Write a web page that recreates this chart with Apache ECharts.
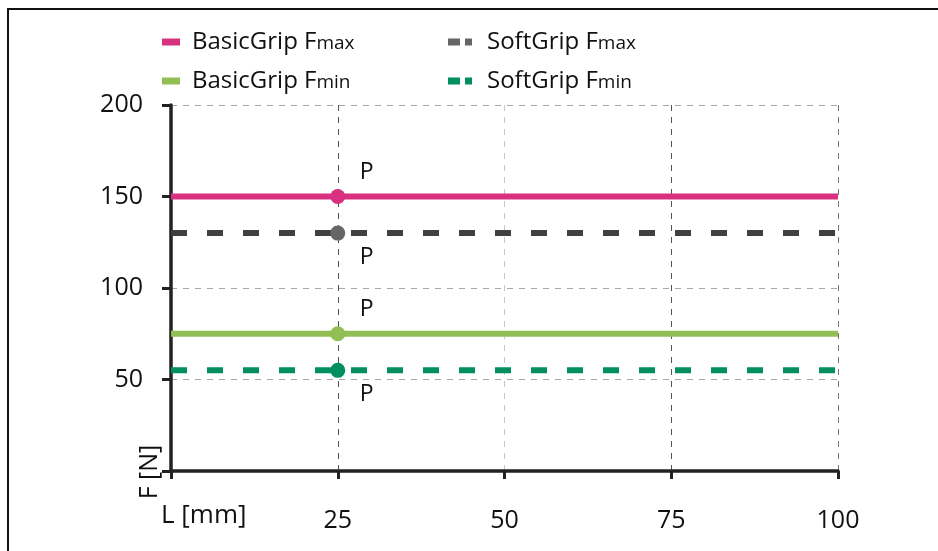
<!DOCTYPE html>
<html>
<head>
<meta charset="utf-8">
<script src="https://cdn.jsdelivr.net/npm/echarts@6/dist/echarts.min.js"></script>
<style>
  html,body{margin:0;padding:0;background:#fff;overflow:hidden;}
  #chart{position:absolute;left:0;top:0;width:938px;height:551px;}
</style>
</head>
<body>
<div id="chart"></div>
<script>
// ---- data ----
const xValues = [0, 25, 100];
const pointX = 25;
const basicGripFmax = [150, 150, 150];
const softGripFmax = [130, 130, 130];
const basicGripFmin = [75, 75, 75];
const softGripFmin = [55, 55, 55];
const xTicks = [0, 25, 50, 75, 100];
const yTicks = [0, 50, 100, 150, 200];
const seriesNames = ['BasicGrip Fmax', 'SoftGrip Fmax', 'BasicGrip Fmin', 'SoftGrip Fmin'];
const pointLabel = 'P';
const xAxisTitle = 'L [mm]';
const yAxisTitle = 'F [N]';

const FONT = '"Open Sans", "DejaVu Sans", sans-serif';

function buildData(vals, above) {
  return xValues.map((x, i) => {
    if (x === pointX) {
      return {
        value: [x, vals[i]],
        symbol: 'circle',
        symbolSize: 15,
        label: {
          show: true,
          formatter: pointLabel,
          position: 'inside',
          offset: [29, above ? -24 : 24],
          color: '#111',
          fontSize: 23,
          fontFamily: FONT
        }
      };
    }
    return { value: [x, vals[i]], symbol: 'none' };
  });
}

function mkSeries(name, vals, lineColor, markerColor, dashed, above) {
  return {
    name: name,
    type: 'line',
    data: buildData(vals, above),
    showSymbol: true,
    showAllSymbol: true,
    z: 3,
    itemStyle: { color: markerColor, borderWidth: 0 },
    lineStyle: { color: lineColor, width: 6, type: dashed ? [16, 20] : 'solid', cap: 'butt' },
    emphasis: { disabled: true },
    animation: false
  };
}

function legendFmt(name) {
  const parts = name.split(' F');
  return '{a|' + parts[0] + ' F}{s|' + parts[1] + '}';
}
const legendRich = {
  a: { fontSize: 24, fontFamily: FONT, color: '#111', lineHeight: 24, verticalAlign: 'bottom' },
  s: { fontSize: 19, fontFamily: FONT, color: '#111', lineHeight: 21, verticalAlign: 'bottom', padding: [0, 0, 1, 0] }
};

const chart = echarts.init(document.getElementById('chart'), null, { renderer: 'canvas' });
chart.setOption({
  animation: false,
  backgroundColor: '#fff',
  grid: { left: 171, right: 100, top: 105, bottom: 80, containLabel: false },
  legend: [
    {
      left: 162, top: 30, orient: 'vertical', itemGap: 15, padding: 0,
      itemWidth: 18, itemHeight: 7, selectedMode: false,
      data: [
        { name: seriesNames[0], icon: 'rect' },
        { name: seriesNames[2], icon: 'rect' }
      ],
      formatter: legendFmt,
      textStyle: { rich: legendRich, padding: [0, 0, 0, 7] }
    },
    {
      left: 448, top: 30, orient: 'vertical', itemGap: 15, padding: 0,
      itemWidth: 24, itemHeight: 7, selectedMode: false,
      data: [
        { name: seriesNames[1], icon: 'path://M0,0H12V7H0Z M17,0H24V7H17Z' },
        { name: seriesNames[3], icon: 'path://M0,0H12V7H0Z M17,0H24V7H17Z' }
      ],
      formatter: legendFmt,
      textStyle: { rich: legendRich, padding: [0, 0, 0, 10] }
    }
  ],
  xAxis: {
    type: 'value', min: xTicks[0], max: xTicks[xTicks.length - 1], interval: 25,
    axisLine: { show: true, lineStyle: { color: '#222', width: 3.5 } },
    axisTick: { show: true, length: 8, lineStyle: { color: '#222', width: 3 } },
    axisLabel: {
      margin: 37, fontSize: 25, fontFamily: FONT, color: '#111',
      formatter: v => (v === 0 ? '' : String(v))
    },
    splitLine: {
      show: true,
      lineStyle: { color: ['#555', '#555', '#c8c8c8', '#555', '#777'], width: 1, type: [6, 6] }
    }
  },
  yAxis: {
    type: 'value', min: yTicks[0], max: yTicks[yTicks.length - 1], interval: 50,
    axisLine: { show: true, lineStyle: { color: '#222', width: 3.5 } },
    axisTick: { show: true, length: 9, lineStyle: { color: '#222', width: 3 } },
    axisLabel: {
      margin: 28, fontSize: 25, fontFamily: FONT, color: '#111',
      formatter: v => (v === 0 ? '' : String(v))
    },
    splitLine: { show: true, lineStyle: { color: '#a8a8a8', width: 1, type: [6, 6] } }
  },
  graphic: [
    {
      type: 'polyline', z: 10, silent: true,
      shape: { points: [[8, 560], [8, 9], [950, 9]] },
      style: { stroke: '#111', lineWidth: 2, fill: null }
    },
    {
      type: 'text', left: 161, top: 503, z: 10,
      style: { text: xAxisTitle, fontSize: 26, fontFamily: FONT, fill: '#111' }
    },
    {
      type: 'text', x: 150, y: 472, rotation: Math.PI / 2, z: 10,
      style: { text: yAxisTitle, fontSize: 25, fontFamily: FONT, fill: '#111', align: 'center', verticalAlign: 'middle' }
    }
  ],
  series: [
    mkSeries(seriesNames[0], basicGripFmax, '#d7317f', '#d7317f', false, true),
    mkSeries(seriesNames[1], softGripFmax, '#404040', '#666666', true, false),
    mkSeries(seriesNames[2], basicGripFmin, '#92be56', '#92be56', false, true),
    mkSeries(seriesNames[3], softGripFmin, '#008f5d', '#008f5d', true, false)
  ]
});
</script>
</body>
</html>
